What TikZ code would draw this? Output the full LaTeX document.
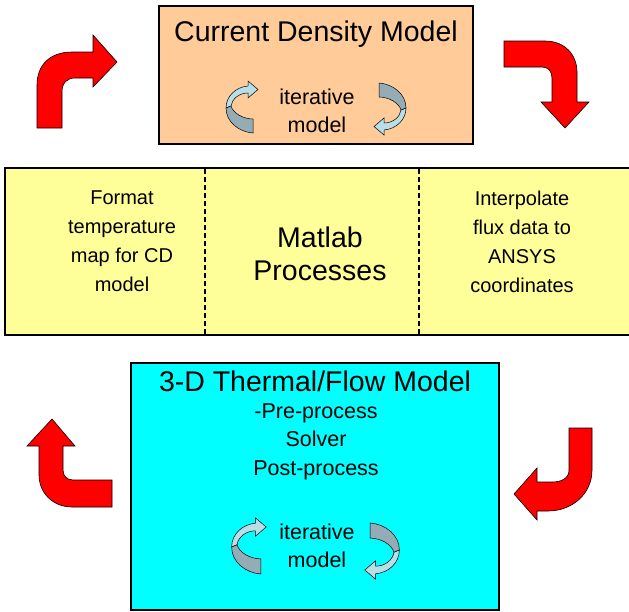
\documentclass[tikz,border=0pt]{standalone}
\usepackage{fontspec}
\setmainfont{Liberation Sans}
\definecolor{peach}{RGB}{255,204,153}
\definecolor{paleyellow}{RGB}{255,255,153}
\definecolor{aqua}{RGB}{0,255,255}
\definecolor{curllight}{RGB}{184,222,232}
\definecolor{curldark}{RGB}{148,172,182}
\tikzset{
  box/.style={draw=black, line width=2pt, rectangle, inner sep=0pt},
  divider/.style={draw=black, line width=1.3pt, dash pattern=on 5pt off 3pt},
  redarrow/.style={fill=red, draw=black, line width=0.6pt},
  bigtext/.style={font=\fontsize{28.5}{33}\selectfont, align=center, inner sep=0pt},
  midtext/.style={font=\fontsize{20}{29}\selectfont, align=center, inner sep=0pt},
  itertext/.style={font=\fontsize{21.5}{28}\selectfont, align=center, inner sep=0pt},
  pics/curl/.style={code={
    \fill[curllight, draw=black, line width=0.5pt]
      (-17,0) .. controls (-17,-12) and (-7,-21) .. (5,-22) -- (5,-27) -- (15,-18.5)
      -- (5,-10) -- (5,-15) .. controls (-4,-15) and (-11,-9) .. (-12,-2) -- cycle;
    \fill[curldark, draw=black, line width=0.5pt]
      (-17,0) .. controls (-17,14) and (-4,24) .. (10,25) -- (10,11)
      .. controls (0,11) and (-10,5) .. (-12,-2) -- cycle;
  }}
}
\begin{document}
\begin{tikzpicture}[x=1pt,y=-1pt]
\clip (0,0) rectangle (629,611);
\fill[white] (0,0) rectangle (629,611);

% top box
\node[box, fill=peach, minimum width=314pt, minimum height=138pt] (cd) at (316,75) {};
\node[bigtext] (cdtitle) at (316,34) {Current Density Model};
\node[itertext] (cditer) at (317,111) {iterative\\model};
\pic at (243,108) {curl};
\pic[rotate=180] at (389,108) {curl};

% middle box
\node[box, fill=paleyellow, minimum width=640pt, minimum height=167pt] (mat) at (325,251.5) {};
\draw[divider] (205,169) -- (205,334);
\draw[divider] (419,169) -- (419,334);
\node[midtext] (fmt) at (122,241.5) {Format\\temperature\\map for CD\\model};
\node[bigtext] (matlab) at (320,254) {Matlab\\Processes};
\node[midtext] (interp) at (522,241.5) {Interpolate\\flux data to\\ANSYS\\coordinates};

% bottom box
\node[box, fill=aqua, minimum width=368pt, minimum height=247pt] (th) at (315,486.5) {};
\node[bigtext] (thtitle) at (315,381) {3-D Thermal/Flow Model};
\node[itertext, font=\fontsize{21.5}{28.5}\selectfont] (steps) at (316,441.5) {-Pre-process\\Solver\\Post-process};
\node[itertext] (thiter) at (317,546) {iterative\\model};
\pic[scale=1.08] at (250,547) {curl};
\pic[scale=1.08, rotate=180] at (381,550) {curl};

% red arrows
\draw[redarrow] (37,128) -- (37,85) .. controls (37,65) and (50,52) .. (72,52) -- (93,52)
  -- (93,35) -- (117,62) -- (93,87) -- (93,78) -- (75,78)
  .. controls (67,78) and (62,83) .. (62,92) -- (62,128) -- cycle;
\draw[redarrow] (504,41) -- (545,41) .. controls (565,41) and (577,55) .. (577,72)
  -- (577,102) -- (589,102) -- (565,128) -- (541,102) -- (552,102) -- (552,78)
  .. controls (552,71) and (548,67) .. (542,67) -- (504,67) -- cycle;
\draw[redarrow] (52,419) -- (75,446) -- (63,446) -- (63,470)
  .. controls (63,476) and (67,480) .. (73,480) -- (112,480) -- (112,507) -- (72,507)
  .. controls (53,507) and (39,493) .. (39,475) -- (39,446) -- (27,446) -- cycle;
\draw[redarrow] (569,428) -- (592,428) -- (592,470)
  .. controls (592,494) and (572,511) .. (548,511) -- (537,511) -- (537,520)
  -- (514,494) -- (537,468) -- (537,482) -- (552,482)
  .. controls (562,482) and (569,478) .. (569,470) -- cycle;
\end{tikzpicture}
\end{document}
